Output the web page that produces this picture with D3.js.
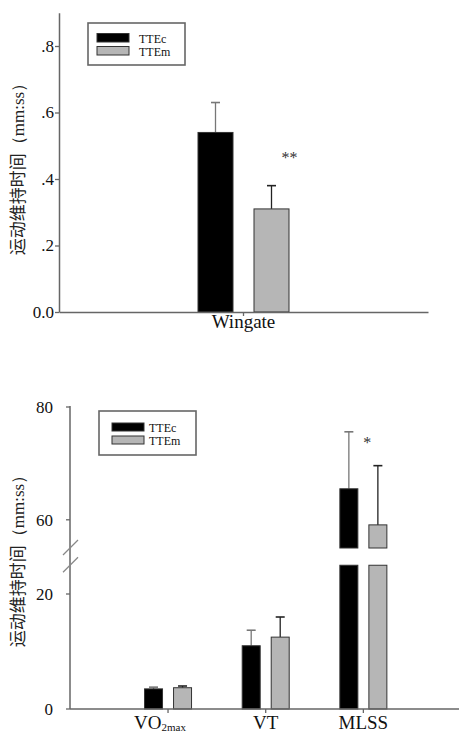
<!DOCTYPE html>
<html>
<head>
<meta charset="utf-8">
<script src="https://cdn.jsdelivr.net/npm/d3@7/dist/d3.min.js"></script>
<style>
html,body{margin:0;padding:0;background:#fff;}
svg{display:block;}
</style>
</head>
<body>
<svg id="chart" width="459" height="733"></svg>
<script>
// ---------- data ----------
const seriesNames = ["TTEc", "TTEm"];
const seriesColors = ["#000000", "#b6b6b6"];
const errColors = ["#777777", "#222222"];

const topCategories = ["Wingate"];
const topTTEc = [0.54];
const topTTEcErr = [0.09];
const topTTEm = [0.31];
const topTTEmErr = [0.07];
const topTicks = [0, 0.2, 0.4, 0.6, 0.8];
const topTickLabels = ["0.0", ".2", ".4", ".6", ".8"];
const topMarks = [{cat: "Wingate", text: "**"}];

const botCategories = ["VO2max", "VT", "MLSS"];
const botTTEc = [3.5, 11.0, 65.5];
const botTTEcErr = [0.3, 2.7, 10.1];
const botTTEm = [3.7, 12.5, 59.1];
const botTTEmErr = [0.3, 3.5, 10.5];
const botTicks = [0, 20, 60, 80];
const botTickLabels = ["0", "20", "60", "80"];
const lowerDomain = [0, 25];
const upperDomain = [55, 80];
const botMarks = [{cat: "MLSS", text: "*"}];

const yTitleCJK = "运动维持时间";
const yTitleUnit = "（mm:ss）";

const SERIF = "Liberation Serif";
const CJK = "Noto Sans CJK SC";

const svg = d3.select("#chart");
const axisColor = "#666";

function txt(g) {
  return g.append("text").attr("font-family", SERIF).attr("fill", "#111");
}

function legend(g, x0, y0, w, h, swX, swW, textX, rowY, swH) {
  g.append("rect").attr("x", x0).attr("y", y0).attr("width", w).attr("height", h)
    .attr("fill", "#fff").attr("stroke", "#666").attr("stroke-width", 1.6);
  seriesNames.forEach((s, i) => {
    g.append("rect").attr("x", swX).attr("y", rowY[i] - swH).attr("width", swW).attr("height", swH)
      .attr("fill", seriesColors[i]).attr("stroke", "#333").attr("stroke-width", 1);
    txt(g).attr("x", textX).attr("y", rowY[i] + 0.5).attr("font-size", 12).text(s);
  });
}

function errBar(g, cx, yBase, yTop, color) {
  g.append("line").attr("x1", cx).attr("x2", cx).attr("y1", yBase).attr("y2", yTop)
    .attr("stroke", color).attr("stroke-width", 1.3);
  g.append("line").attr("x1", cx - 4.5).attr("x2", cx + 4.5).attr("y1", yTop).attr("y2", yTop)
    .attr("stroke", color).attr("stroke-width", 1.6);
}

function yTitle(g, cx, cy) {
  const t = g.append("text").attr("transform", `translate(${cx},${cy}) rotate(-90)`).attr("text-anchor", "middle")
    .attr("font-size", 17).attr("fill", "#222");
  t.append("tspan").attr("font-family", CJK).text(yTitleCJK);
  t.append("tspan").attr("font-family", SERIF).text(yTitleUnit);
}

// ---------- TOP CHART ----------
{
  const g = svg.append("g");
  const x = d3.scaleBand().domain(topCategories).range([59, 428]);
  const xs = d3.scaleBand().domain(seriesNames).range([-45.5, 45.5]).paddingInner(0.375);
  const y = d3.scaleLinear().domain([0, 0.9]).range([312, 12.75]);

  const ya = d3.axisLeft(y).tickValues(topTicks).tickFormat("").tickSize(4).tickSizeOuter(0);
  const yg = g.append("g").attr("transform", "translate(59,0)").call(ya);
  yg.select(".domain").attr("stroke", axisColor).attr("stroke-width", 1.5);
  yg.selectAll(".tick line").attr("stroke", axisColor).attr("stroke-width", 1.3);
  topTicks.forEach((t, i) => {
    txt(g).attr("x", 54).attr("y", y(t)).attr("dy", "0.35em").attr("text-anchor", "end")
      .attr("font-size", 17).text(topTickLabels[i]);
  });

  const means = [topTTEc, topTTEm], errs = [topTTEcErr, topTTEmErr];
  topCategories.forEach((c, ci) => {
    const cx = x(c) + x.bandwidth() / 2;
    seriesNames.forEach((s, si) => {
      const v = means[si][ci], e = errs[si][ci];
      const bx = cx + xs(s);
      errBar(g, bx + xs.bandwidth() / 2, y(v), y(v + e), errColors[si]);
      g.append("rect").attr("x", bx).attr("y", y(v)).attr("width", xs.bandwidth()).attr("height", y(0) - y(v))
        .attr("fill", seriesColors[si]).attr("stroke", "#333").attr("stroke-width", 1);
    });
  });

  const xa = d3.axisBottom(x).tickSize(4).tickSizeOuter(0).tickFormat("");
  const xg = g.append("g").attr("transform", "translate(0,312)").call(xa);
  xg.select(".domain").attr("stroke", axisColor).attr("stroke-width", 1.5);
  xg.selectAll(".tick line").attr("stroke", axisColor).attr("stroke-width", 1.3);
  topCategories.forEach(c => {
    txt(g).attr("x", x(c) + x.bandwidth() / 2).attr("y", 328).attr("text-anchor", "middle")
      .attr("font-size", 19).text(c);
  });

  topMarks.forEach(m => {
    const cx = x(m.cat) + x.bandwidth() / 2 + xs("TTEm") + xs.bandwidth() / 2;
    txt(g).attr("x", cx + 18).attr("y", 163).attr("text-anchor", "middle").attr("font-size", 16).attr("fill", "#333").text(m.text);
  });

  legend(g, 88, 23, 97, 42, 97, 32, 139, [42, 55], 8.5);
  yTitle(g, 24, 165);
}

// ---------- BOTTOM CHART ----------
{
  const g = svg.append("g");
  const x = d3.scaleBand().domain(botCategories).range([119.2, 412.2]);
  const xs = d3.scaleBand().domain(seriesNames).range([-23.5, 23.5]).paddingInner(0.38);
  const yLow = d3.scaleLinear().domain(lowerDomain).range([709, 565.25]);
  const yUp = d3.scaleLinear().domain(upperDomain).range([548, 407]);
  const y = v => v <= lowerDomain[1] ? yLow(v) : yUp(v);

  g.append("line").attr("x1", 70).attr("x2", 70).attr("y1", yUp(upperDomain[1]) - 1).attr("y2", yLow(0))
    .attr("stroke", axisColor).attr("stroke-width", 1.5);
  botTicks.forEach((t, i) => {
    const ty = y(t);
    g.append("line").attr("x1", 66).attr("x2", 70).attr("y1", ty).attr("y2", ty).attr("stroke", axisColor).attr("stroke-width", 1.3);
    txt(g).attr("x", 53).attr("y", ty).attr("dy", "0.35em").attr("text-anchor", "end")
      .attr("font-size", 17).text(botTickLabels[i]);
  });
  [yUp(upperDomain[0]), yLow(lowerDomain[1])].forEach(by => {
    g.append("line").attr("x1", 63).attr("x2", 78).attr("y1", by + 7).attr("y2", by - 8)
      .attr("stroke", "#888").attr("stroke-width", 1.2);
  });

  const means = [botTTEc, botTTEm], errs = [botTTEcErr, botTTEmErr];
  botCategories.forEach((c, ci) => {
    const cx = x(c) + x.bandwidth() / 2;
    seriesNames.forEach((s, si) => {
      const v = means[si][ci], e = errs[si][ci];
      const bx = cx + xs(s), bw = xs.bandwidth();
      errBar(g, bx + bw / 2, y(v), y(v + e), errColors[si]);
      const style = r => r.attr("fill", seriesColors[si]).attr("stroke", "#333").attr("stroke-width", 1);
      if (v <= lowerDomain[1]) {
        style(g.append("rect").attr("x", bx).attr("y", yLow(v)).attr("width", bw).attr("height", yLow(0) - yLow(v)));
      } else {
        style(g.append("rect").attr("x", bx).attr("y", yLow(lowerDomain[1])).attr("width", bw).attr("height", yLow(0) - yLow(lowerDomain[1])));
        style(g.append("rect").attr("x", bx).attr("y", yUp(v)).attr("width", bw).attr("height", yUp(upperDomain[0]) - yUp(v)));
      }
    });
  });

  g.append("line").attr("x1", 70).attr("x2", 459).attr("y1", 709).attr("y2", 709).attr("stroke", axisColor).attr("stroke-width", 1.5);
  botCategories.forEach(c => {
    const cx = x(c) + x.bandwidth() / 2;
    g.append("line").attr("x1", cx).attr("x2", cx).attr("y1", 709).attr("y2", 713).attr("stroke", axisColor).attr("stroke-width", 1.3);
    const t = txt(g).attr("x", c === "VO2max" ? cx - 8 : cx).attr("y", 729).attr("text-anchor", "middle").attr("font-size", 19);
    if (c === "VO2max") {
      t.append("tspan").text("VO");
      t.append("tspan").attr("font-size", 11).attr("dy", 2).text("2max");
    } else t.text(c);
  });

  botMarks.forEach(m => {
    const cx = x(m.cat) + x.bandwidth() / 2;
    txt(g).attr("x", cx + 4).attr("y", 448).attr("text-anchor", "middle").attr("font-size", 16).attr("fill", "#333").text(m.text);
  });

  legend(g, 99, 411, 97, 44, 112, 32, 149, [431, 444], 8);
  yTitle(g, 24, 557);
}
</script>
</body>
</html>
